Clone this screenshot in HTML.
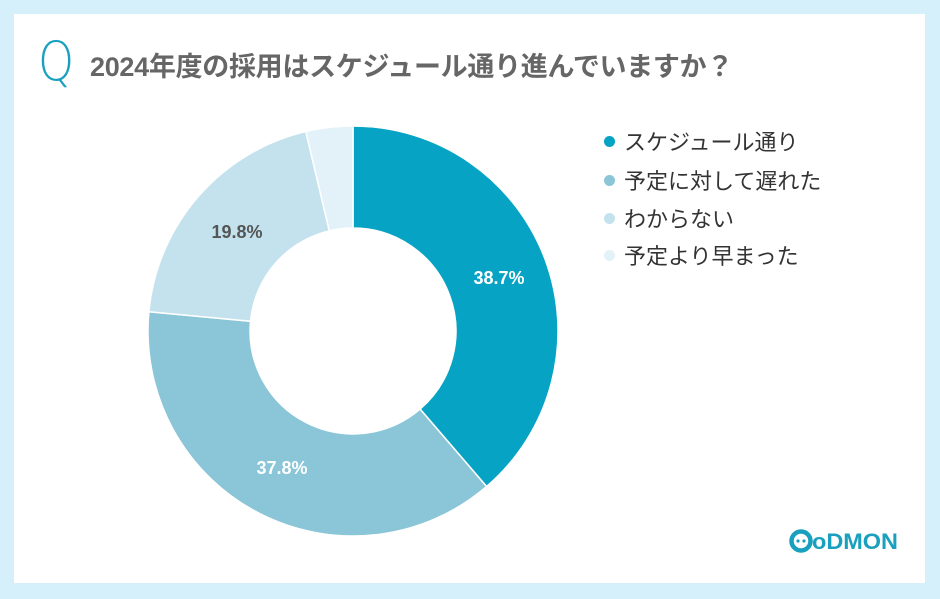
<!DOCTYPE html>
<html><head><meta charset="utf-8"><style>
body{margin:0;width:940px;height:599px;background:#d5f0fb;font-family:"Liberation Sans","Noto Sans CJK JP",sans-serif;overflow:hidden;position:relative}
.panel{position:absolute;left:14px;top:14px;width:911px;height:569px;background:#fff}
.t{position:absolute;left:90px;top:45px;font-size:27px;font-weight:bold;color:#666;white-space:nowrap;letter-spacing:-0.3px}
.q{position:absolute;left:38px;top:30px;font-size:54px;color:#1aa0bf;font-family:"DejaVu Sans",sans-serif;font-weight:200;transform:scaleX(0.85);transform-origin:left}
.lg{position:absolute;left:604px;font-size:22px;color:#333;white-space:nowrap}
.lg i{display:inline-block;width:11px;height:11px;border-radius:50%;margin-right:9px;vertical-align:3px}
</style></head><body>
<div class="panel"></div>
<div class="q">Q</div>
<div class="t">2024年度の採用はスケジュール通り進んでいますか？</div>
<svg width="940" height="599" style="position:absolute;left:0;top:0">
<g stroke="#fff" stroke-width="1.5">
<path d="M353 126 A205 205 0 0 1 486.6 486.5 L420.1 409.1 A103 103 0 0 0 353 228Z" fill="#06a3c4"/>
<path d="M486.6 486.5 A205 205 0 0 1 148.9 311.7 L250.5 321.3 A103 103 0 0 0 420.1 409.1Z" fill="#8ac5d8"/>
<path d="M148.9 311.7 A205 205 0 0 1 305.8 131.5 L329.3 230.8 A103 103 0 0 0 250.5 321.3Z" fill="#c4e2ee"/>
<path d="M305.8 131.5 A205 205 0 0 1 353 126 L353 228 A103 103 0 0 0 329.3 230.8Z" fill="#e3f2f9"/>
</g>
<g font-family="Liberation Sans,sans-serif" font-size="18" font-weight="bold" text-anchor="middle">
<text x="499" y="284" fill="#fff">38.7%</text>
<text x="282" y="474" fill="#fff">37.8%</text>
<text x="237" y="238" fill="#555">19.8%</text>
</g>
<g font-family="Liberation Sans,sans-serif" font-weight="bold" fill="#1aa0bf" font-size="22">
<circle cx="801" cy="541" r="9.5" fill="none" stroke="#1aa0bf" stroke-width="4.5"/>
<circle cx="798" cy="541" r="1.6"/><circle cx="804" cy="541" r="1.6"/>
<text x="812" y="549" textLength="86" lengthAdjust="spacingAndGlyphs">oDMON</text>
</g>
</svg>
<div class="lg" style="top:125px"><i style="background:#06a3c4"></i>スケジュール通り</div>
<div class="lg" style="top:164px"><i style="background:#8ac5d8"></i>予定に対して遅れた</div>
<div class="lg" style="top:202px"><i style="background:#c4e2ee"></i>わからない</div>
<div class="lg" style="top:239px"><i style="background:#e3f2f9"></i>予定より早まった</div>
</body></html>
